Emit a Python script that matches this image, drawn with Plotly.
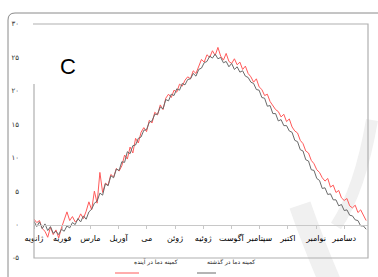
import plotly.graph_objects as go

# ---- data ----
days = list(range(0, 366, 3))  # day index, every 3 days

past_min = [0.5, -0.3, 0.4, -0.6, 0.1, -0.9, -0.3, -1.3, -1.0, -1.5, -0.7, -1.0, -0.2, -0.5, 0.3, 0.0,
            0.9, 0.4, 1.3, 0.8, 1.9, 2.3, 3.2, 3.5, 4.7, 4.4, 6.1, 5.8, 7.3, 7.0, 8.3, 8.1,
            9.4, 9.3, 10.9, 10.6, 11.8, 11.9, 12.9, 13.1, 14.1, 14.2, 15.3, 15.5, 16.5, 16.5, 17.6, 17.3,
            18.7, 18.5, 19.5, 19.3, 20.3, 20.1, 21.1, 20.9, 21.7, 21.8, 22.6, 22.2, 23.2, 23.4, 24.2, 24.4,
            25.2, 24.9, 25.5, 24.8, 25.0, 24.2, 24.4, 23.6, 24.1, 23.2, 23.6, 22.8, 23.0, 22.2, 22.0, 21.3,
            21.1, 20.2, 20.1, 19.0, 18.9, 17.7, 17.8, 16.6, 16.6, 15.5, 15.7, 14.8, 14.8, 14.0, 13.8, 12.6,
            12.4, 11.2, 11.0, 9.7, 9.5, 8.2, 8.1, 6.9, 6.6, 5.4, 5.5, 4.5, 4.6, 3.7, 3.7, 2.8,
            3.0, 2.1, 2.2, 1.4, 1.3, 0.7, 0.6, -0.2, -0.2, -0.7]

future_min = [0.8, 0.3, 0.6, -0.6, -1.0, -1.9, -0.4, -1.5, -0.8, -2.0, -0.5, 0.8, 1.9, 0.6, 1.2, 0.4,
              0.7, 1.6, 0.9, 2.0, 3.4, 2.2, 5.0, 3.2, 7.8, 4.8, 6.2, 5.9, 7.5, 7.1, 8.4, 8.0,
              8.8, 10.4, 9.8, 11.6, 10.7, 12.9, 12.2, 13.8, 14.5, 13.9, 15.6, 15.2, 16.8, 16.4, 17.9, 17.2,
              18.9, 19.5, 19.0, 20.1, 19.8, 21.0, 20.7, 21.6, 22.1, 21.8, 23.0, 22.6, 23.8, 24.7, 24.3, 25.4,
              25.0, 26.0, 25.3, 26.5, 25.2, 24.6, 25.6, 24.4, 24.1, 24.8, 23.9, 24.3, 23.2, 23.7, 22.6, 22.1,
              21.3, 21.8, 20.6, 20.2, 19.3, 19.5, 18.4, 17.8, 17.2, 16.9, 16.1, 16.5, 15.4, 15.8, 14.6, 14.0,
              13.7, 12.6, 12.1, 11.0, 10.7, 9.6, 9.1, 8.2, 7.8, 7.0, 6.5, 6.9, 5.6, 5.9, 4.8, 5.1,
              4.0, 3.6, 3.9, 2.8, 2.5, 2.9, 1.8, 2.2, 1.4, 0.6]

month_labels = ["ژانویه", "فوریه", "مارس", "آوریل", "می", "ژوئن",
                "ژوئیه", "آگوست", "سپتامبر", "اکتبر", "نوامبر", "دسامبر"]
month_ticks = [0, 30.8, 61.6, 92.5, 123.3, 154.1, 184.9, 215.7, 246.6, 277.4, 308.2, 339.0]

y_ticks = [-5, 0, 5, 10, 15, 20, 25, 30]
y_labels = ["-۵", "۰", "۵", "۱۰", "۱۵", "۲۰", "۲۵", "۳۰"]

name_future = "کمینه دما در آینده"
name_past = "کمینه دما در گذشته"

# ---- figure ----
W, H = 378, 277
L, R, T, B = 34, 10, 24, 19
PW, PH = W - L - R, H - T - B


def px(x):
    return (x - L) / PW


def py(y):
    return (H - B - y) / PH


fig = go.Figure()
fig.add_trace(go.Scatter(x=days, y=future_min, mode="lines", name=name_future,
                         line=dict(color="#ff5a5a", width=1)))
fig.add_trace(go.Scatter(x=days, y=past_min, mode="lines", name=name_past,
                         line=dict(color="#6a6a6a", width=1)))

shapes = []
# watermark strokes (faint)
shapes.append(dict(type="path", xref="paper", yref="paper", layer="below",
                   path=f"M {px(300)},{py(205)} Q {px(312)},{py(240)} {px(330)},{py(282)}",
                   line=dict(color="#f0f0f0", width=22)))
shapes.append(dict(type="path", xref="paper", yref="paper", layer="below",
                   path=f"M {px(372)},{py(120)} Q {px(360)},{py(190)} {px(336)},{py(226)}",
                   line=dict(color="#f0f0f0", width=12)))
# outer rounded frame
r = 7
shapes.append(dict(type="path", xref="paper", yref="paper",
                   path=(f"M {px(8)},{py(290)} L {px(8)},{py(13 + r)} "
                         f"Q {px(8)},{py(13)} {px(8 + r)},{py(13)} L {px(390)},{py(13)}"),
                   line=dict(color="#8a8a8a", width=1)))
# inner box (left side open at top)
shapes.append(dict(type="path", xref="paper", yref="paper",
                   path=(f"M {px(34)},{py(84)} L {px(34)},{py(258)} L {px(368)},{py(258)} "
                         f"L {px(368)},{py(24)} L {px(33)},{py(24)}"),
                   line=dict(color="#b0b0b0", width=1.2)))
# legend lines
shapes.append(dict(type="line", xref="paper", yref="paper",
                   x0=px(115), x1=px(139), y0=py(273), y1=py(273),
                   line=dict(color="#ff5a5a", width=1)))
shapes.append(dict(type="line", xref="paper", yref="paper",
                   x0=px(197), x1=px(216), y0=py(273), y1=py(273),
                   line=dict(color="#6a6a6a", width=1)))

annotations = [
    dict(text="C", xref="paper", yref="paper", x=px(58), y=py(52), showarrow=False,
         font=dict(family="Liberation Sans, Arial", size=22, color="#000")),
    dict(text=name_future, xref="paper", yref="paper", x=px(156), y=py(268), showarrow=False,
         font=dict(family="DejaVu Sans", size=6, color="#222")),
    dict(text=name_past, xref="paper", yref="paper", x=px(231), y=py(268), showarrow=False,
         font=dict(family="DejaVu Sans", size=6, color="#222")),
]

fig.update_layout(
    width=W, height=H,
    margin=dict(l=L, r=R, t=T, b=B, autoexpand=False),
    paper_bgcolor="white", plot_bgcolor="white",
    showlegend=False,
    shapes=shapes, annotations=annotations,
    xaxis=dict(range=[0, 365], tickvals=month_ticks, ticktext=month_labels,
               anchor="free", position=5 / 35, showline=True, linecolor="#c8c8c8", linewidth=1,
               ticks="outside", ticklen=3, tickcolor="#c8c8c8", automargin=False,
               showgrid=False, zeroline=False, ticklabelstandoff=3,
               tickfont=dict(family="DejaVu Sans", size=8, color="#000")),
    yaxis=dict(range=[-5, 30], tickvals=y_ticks, ticktext=y_labels, automargin=False,
               showgrid=False, zeroline=False, showline=False, ticks="",
               ticklabelstandoff=14,
               tickfont=dict(family="DejaVu Sans", size=7, color="#333")),
)

fig.write_html("out.html", config={"displayModeBar": False},
               post_script="document.body.style.margin='0px';")
